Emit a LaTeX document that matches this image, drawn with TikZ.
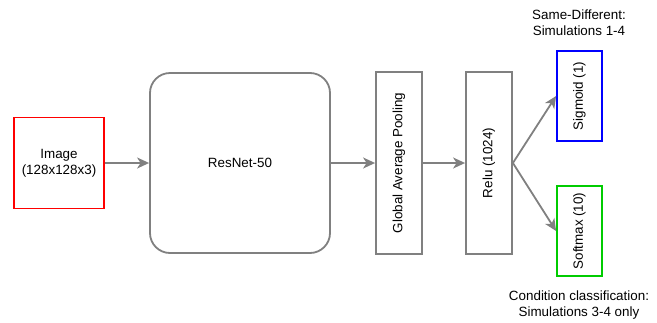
\documentclass[tikz,border=0pt]{standalone}
\usepackage{fontspec}
\setmainfont{Liberation Sans}
\usetikzlibrary{arrows.meta}
\definecolor{lgray}{HTML}{808080}
\definecolor{dgreen}{HTML}{00CC00}
\begin{document}
\begin{tikzpicture}[x=1pt,y=-1pt,
  every node/.style={font=\fontsize{13.4}{16}\selectfont, inner sep=0pt, align=center},
  box/.style={draw=lgray, line width=1.8pt, fill=white},
  conn/.style={draw=lgray, line width=1.8pt, -{Stealth[length=12pt,width=11pt,inset=3.5pt]}}]
\useasboundingbox (0,0) rectangle (657,322);
\node[box, draw=red, minimum width=90pt, minimum height=91pt] (img) at (59,163) {Image\\(128x128x3)};
\node[box, rounded corners=20pt, minimum width=180pt, minimum height=180pt] (res) at (240,163) {ResNet-50};
\node[box, minimum width=46pt, minimum height=182pt] (gap) at (399,163) {\rotatebox{90}{Global Average Pooling}};
\node[box, minimum width=46pt, minimum height=182pt] (relu) at (489,163) {\rotatebox{90}{Relu (1024)}};
\node[box, draw=blue, minimum width=45pt, minimum height=90pt] (sig) at (579.5,96) {\rotatebox{90}{Sigmoid (1)}};
\node[box, draw=dgreen, minimum width=45pt, minimum height=90pt] (soft) at (579.5,231) {\rotatebox{90}{Softmax (10)}};
\node (t1) at (579,22.5) {Same-Different:\\Simulations 1-4};
\node (t2) at (579,305.5) {Condition classification:\\Simulations 3-4 only};
\draw[conn] (img.east) -- (res.west);
\draw[conn] (res.east) -- (gap.west);
\draw[conn] (gap.east) -- (relu.west);
\draw[conn] (relu.east) -- (sig.west);
\draw[conn] (relu.east) -- (soft.west);
\end{tikzpicture}
\end{document}
